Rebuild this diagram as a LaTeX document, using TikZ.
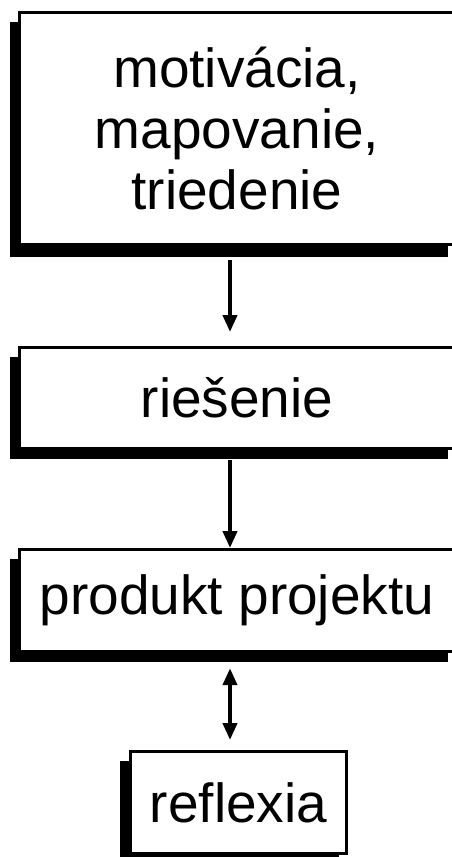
\documentclass[tikz,border=0pt]{standalone}
\usepackage{fontspec}
\setmainfont{Liberation Sans}
\usetikzlibrary{arrows.meta}
\begin{document}
\begin{tikzpicture}[x=1pt,y=-1pt]
\tikzset{
  box/.style={draw, line width=3.2pt, fill=white, inner sep=0pt, font=\fontsize{55}{61}\selectfont, align=center},
  shadowbox/.style={fill=black, draw=none, inner sep=0pt},
  arr/.style={line width=4pt, -{Triangle[width=14pt,length=17pt]}}
}
\useasboundingbox (0,0) rectangle (452,857);
\clip (0,0) rectangle (452,857);
% shadows
\node[shadowbox, minimum width=438pt, minimum height=235pt] (s1) at (229,139.5) {};
\node[shadowbox, minimum width=438pt, minimum height=102pt] (s2) at (229,408) {};
\node[shadowbox, minimum width=438pt, minimum height=103pt] (s3) at (229,610.5) {};
\node[shadowbox, minimum width=219pt, minimum height=105pt] (s4) at (229.5,813.5) {};
% boxes
\node[box, minimum width=444.8pt, minimum height=231.8pt] (b1) at (242,128.5) {\hspace*{-10pt}motivácia,\\\hspace*{-10pt}mapovanie,\\\hspace*{-10pt}triedenie};
\node[box, minimum width=444.8pt, minimum height=100.8pt] (b2) at (242,398) {\hspace*{-10pt}riešenie};
\node[box, minimum width=444.8pt, minimum height=101.8pt] (b3) at (242,600.5) {\hspace*{-10pt}produkt projektu};
\node[box, minimum width=215.8pt, minimum height=101.8pt] (b4) at (238.5,802.5) {reflexia};
% arrows
\coordinate (ax) at (230,0);
\draw[arr, shorten <=3pt, shorten >=14pt] (s1.south -| ax) -- (b2.north -| ax);
\draw[arr, shorten <=1pt] (s2.south -| ax) -- (b3.north -| ax);
\draw[arr, {Triangle[width=14pt,length=17pt]}-{Triangle[width=14pt,length=17pt]}, shorten <=6pt, shorten >=10pt] (s3.south -| ax) -- (b4.north -| ax);
\end{tikzpicture}
\end{document}
